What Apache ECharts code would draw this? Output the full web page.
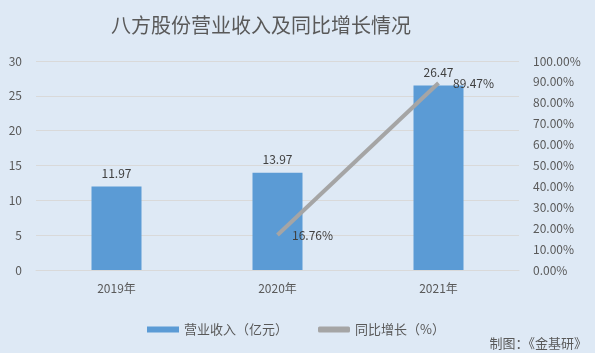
<!DOCTYPE html>
<html><head><meta charset="utf-8">
<script src="https://cdn.jsdelivr.net/npm/echarts@6/dist/echarts.min.js"></script>
<style>html,body{margin:0;padding:0;background:#dee9f5;}#c{width:595px;height:353px;}</style>
</head><body><div id="c"></div>
<script>
const categories = ['2019年', '2020年', '2021年'];
const revenue = [11.97, 13.97, 26.47];
const growth = [null, 16.76, 89.47];
const leftTicks = [0, 5, 10, 15, 20, 25, 30];
const rightTicks = [0, 10, 20, 30, 40, 50, 60, 70, 80, 90, 100];

const font = "'Noto Sans CJK SC', 'Microsoft YaHei', sans-serif";
const chart = echarts.init(document.getElementById('c'));
chart.setOption({
  backgroundColor: '#dee9f5',
  textStyle: { fontFamily: font },
  title: {
    text: '八方股份营业收入及同比增长情况',
    left: 106, top: 10,
    textStyle: { fontSize: 20, fontWeight: 'normal', color: '#595959', fontFamily: font }
  },
  graphic: [{
    type: 'text', right: 8, bottom: 3,
    style: { text: '制图：《金基研》', fill: '#595959', font: "13px " + font }
  }],
  legend: {
    bottom: 12, left: 142, itemGap: 30,
    textStyle: { color: '#595959', fontSize: 13, fontFamily: font },
    data: [
      { name: '营业收入（亿元）', icon: 'rect', itemStyle: {color:'#5b9bd5'} },
      { name: '同比增长（%）', icon: 'roundRect', itemStyle: {color:'#a5a5a5'} }
    ],
    itemWidth: 32, itemHeight: 6
  },
  grid: { left: 36, right: 76, top: 61, bottom: 83 },
  xAxis: {
    type: 'category', data: categories,
    axisLine: { lineStyle: { color: '#d9d9d9' } },
    axisTick: { show: false },
    axisLabel: { color: '#595959', fontSize: 12, margin: 12 }
  },
  yAxis: [{
    type: 'value', min: leftTicks[0], max: leftTicks[leftTicks.length-1], interval: 5,
    axisLine: { show: false }, axisTick: { show: false },
    axisLabel: { color: '#595959', fontSize: 12, margin: 14 },
    splitLine: { lineStyle: { color: '#d9d9d9' } }
  }, {
    type: 'value', min: rightTicks[0], max: rightTicks[rightTicks.length-1], interval: 10,
    axisLine: { show: false }, axisTick: { show: false },
    axisLabel: { color: '#595959', fontSize: 12, margin: 14, formatter: v => v.toFixed(2) + '%' },
    splitLine: { show: false }
  }],
  series: [{
    name: '营业收入（亿元）', type: 'bar', data: revenue, barWidth: 50,
    itemStyle: { color: '#5b9bd5' },
    label: { show: true, position: 'top', distance: 7, color: '#404040', fontSize: 12, formatter: p => p.value.toFixed(2) }
  }, {
    name: '同比增长（%）', type: 'line', yAxisIndex: 1, data: growth,
    symbol: 'circle', symbolSize: 1, showSymbol: true,
    lineStyle: { color: '#a5a5a5', width: 4 }, itemStyle: { color: 'rgba(0,0,0,0)' },
    label: { show: true, position: 'right', distance: 14, color: '#404040', fontSize: 12, formatter: p => p.value.toFixed(2) + '%' }
  }]
});
</script></body></html>
